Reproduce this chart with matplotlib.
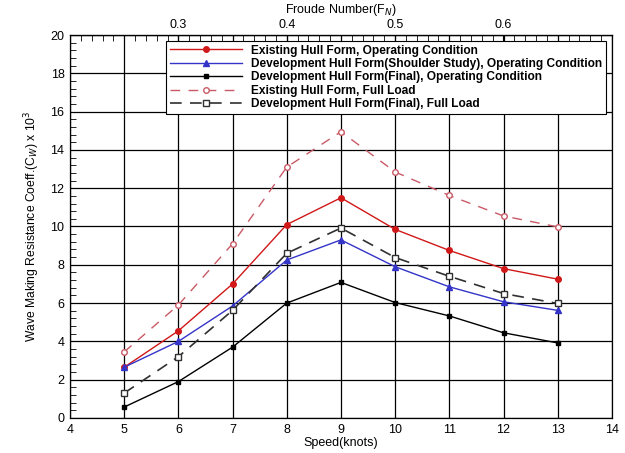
import numpy as np
import matplotlib
matplotlib.use("Agg")
import matplotlib.pyplot as plt
from matplotlib.ticker import MultipleLocator

plt.rcParams["font.family"] = ["Liberation Sans", "DejaVu Sans"]

speed = [5, 6, 7, 8, 9, 10, 11, 12, 13]

existing_op = [2.65, 4.55, 7.0, 10.1, 11.5, 9.85, 8.75, 7.8, 7.25]
dev_shoulder_op = [2.65, 4.0, 5.85, 8.25, 9.3, 7.9, 6.85, 6.07, 5.62]
dev_final_op = [0.57, 1.9, 3.7, 6.0, 7.08, 6.03, 5.33, 4.45, 3.92]
existing_full = [3.45, 5.9, 9.1, 13.1, 14.95, 12.85, 11.62, 10.55, 9.98]
dev_final_full = [1.3, 3.2, 5.62, 8.6, 9.92, 8.38, 7.4, 6.5, 5.98]

labels = [
    "Existing Hull Form, Operating Condition",
    "Development Hull Form(Shoulder Study), Operating Condition",
    "Development Hull Form(Final), Operating Condition",
    "Existing Hull Form, Full Load",
    "Development Hull Form(Final), Full Load",
]

fn_ticks = [0.3, 0.4, 0.5, 0.6]
fn_per_knot = 0.05

fig = plt.figure(figsize=(6.25, 4.53), dpi=100)
ax = fig.add_axes([0.112, 0.0773, 0.867, 0.8454])

ax.plot(speed, existing_op, color="#d01818", lw=1.0, marker="o", ms=4,
        label=labels[0])
ax.plot(speed, dev_shoulder_op, color="#3434c8", lw=1.0, marker="^", ms=4,
        label=labels[1])
ax.plot(speed, dev_final_op, color="black", lw=1.0, marker="s", ms=3.5,
        label=labels[2])
ax.plot(speed, existing_full, color="#c85a66", lw=1.0, ls=(0, (7, 6)),
        marker="o", ms=4, mfc="white", mec="#c85a66", label=labels[3])
ax.plot(speed, dev_final_full, color="#303030", lw=1.2, ls=(0, (7, 5)),
        marker="s", ms=4, mfc="white", mec="#303030", label=labels[4])

ax.set_xlim(4, 14)
ax.set_ylim(0, 20)
ax.xaxis.set_major_locator(MultipleLocator(1))
ax.yaxis.set_major_locator(MultipleLocator(2))
ax.yaxis.set_minor_locator(MultipleLocator(0.4))
ax.grid(True, which="major", color="black", lw=0.9)
ax.tick_params(which="both", direction="in", labelsize=9, right=False)
ax.tick_params(which="major", length=0, pad=4)
ax.tick_params(which="minor", length=4, width=0.6)
for s in ax.spines.values():
    s.set_linewidth(0.9)

ax.set_xlabel("Speed(knots)", fontsize=9, labelpad=1)
ax.set_ylabel("Wave Making Resistance Coeff.(C$_W$) x 10$^3$", fontsize=8.7, labelpad=6)

top = ax.secondary_xaxis("top", functions=(lambda v: v * fn_per_knot,
                                            lambda f: f / fn_per_knot))
top.set_xticks(fn_ticks)
top.xaxis.set_minor_locator(MultipleLocator(0.01))
top.tick_params(which="major", direction="in", length=8, labelsize=9, pad=3)
top.tick_params(which="minor", direction="in", length=4, width=0.6)
top.set_xlabel("Froude Number(F$_N$)", fontsize=9, labelpad=4)

leg = ax.legend(loc="upper right", frameon=True, fancybox=False,
                prop={"size": 8.6, "weight": "bold"},
                edgecolor="black", framealpha=1, borderaxespad=0.5,
                handlelength=6.0, handletextpad=0.8, labelspacing=0.12,
                borderpad=0.3)
leg.get_frame().set_linewidth(0.8)

fig.savefig("out.png", dpi=100)
